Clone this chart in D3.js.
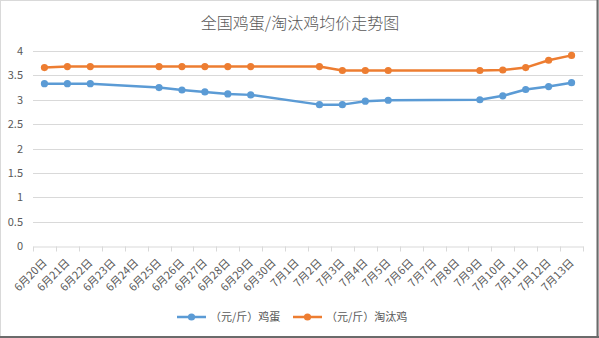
<!DOCTYPE html>
<html>
<head>
<meta charset="utf-8">
<script src="https://cdn.jsdelivr.net/npm/d3@7/dist/d3.min.js"></script>
<style>
  html, body { margin: 0; padding: 0; background: #fff; }
  svg { display: block; }
</style>
</head>
<body>
<svg id="chart" width="599" height="338"></svg>
<script>
// Daily categories shown on the x axis
const dates = ["6月20日","6月21日","6月22日","6月23日","6月24日","6月25日","6月26日","6月27日",
  "6月28日","6月29日","6月30日","7月1日","7月2日","7月3日","7月4日","7月5日","7月6日","7月7日",
  "7月8日","7月9日","7月10日","7月11日","7月12日","7月13日"];

// Average egg price (元/斤); null where no quote was published
const eggPrice = [3.33,3.33,3.33,null,null,3.25,3.20,3.16,3.12,3.10,null,null,
  2.90,2.90,2.97,2.99,null,null,null,3.00,3.08,3.21,3.27,3.35];

// Average culled-hen price (元/斤)
const henPrice = [3.66,3.68,3.68,null,null,3.68,3.68,3.68,3.68,3.68,null,null,
  3.68,3.60,3.60,3.60,null,null,null,3.60,3.61,3.66,3.81,3.91];

const yTicks = [0,0.5,1,1.5,2,2.5,3,3.5,4];
const seriesNames = ["（元/斤）鸡蛋","（元/斤）淘汰鸡"];
const seriesColors = ["#5B9BD5","#ED7D31"];
const titleText = "全国鸡蛋/淘汰鸡均价走势图";

const W = 599, H = 338;
const margin = {left: 33, right: 16, top: 51, bottom: 92};
const svg = d3.select("#chart");
const font = "'Noto Sans CJK SC','Microsoft YaHei',sans-serif";

// frame
svg.append("rect").attr("x",0.5).attr("y",0.5).attr("width",W-1).attr("height",H-1)
  .attr("fill","#fff").attr("stroke","#d9d9d9");
svg.append("line").attr("x1",W-1.5).attr("x2",W-1.5).attr("y1",0).attr("y2",H).attr("stroke","#6b6b6b").attr("stroke-width",2);
svg.append("line").attr("x1",0).attr("x2",W).attr("y1",H-1).attr("y2",H-1).attr("stroke","#6b6b6b").attr("stroke-width",2);

const x = d3.scaleBand().domain(dates).range([margin.left, W - margin.right]);
const y = d3.scaleLinear().domain([0,4]).range([H - margin.bottom, margin.top]);

// title
svg.append("text").attr("x",300).attr("y",29).attr("text-anchor","middle")
  .attr("font-family",font).attr("font-weight",300).attr("font-size",16)
  .attr("fill","#595959").text(titleText);

// gridlines
svg.append("g").selectAll("line").data(yTicks.filter(d => d > 0)).join("line")
  .attr("x1",margin.left).attr("x2",W - margin.right)
  .attr("y1",d => Math.round(y(d)) + 0.5).attr("y2",d => Math.round(y(d)) + 0.5)
  .attr("stroke","#d9d9d9").attr("stroke-width",1);

// y axis labels
const yAxis = svg.append("g").attr("transform",`translate(${margin.left},0)`)
  .call(d3.axisLeft(y).tickValues(yTicks).tickSize(0).tickPadding(10).tickFormat(d3.format("")));
yAxis.select(".domain").remove();
yAxis.selectAll("text").attr("font-family",font).attr("font-size",11).attr("fill","#595959");

// x axis
const xAxis = svg.append("g").attr("transform",`translate(0,${Math.round(y(0)) + 0.5})`)
  .call(d3.axisBottom(x).tickSize(0).tickFormat(""));
xAxis.select(".domain").attr("stroke","#d9d9d9");
xAxis.selectAll(".tick").remove();
const bounds = dates.map(d => x(d)).concat([x.range()[1]]);
xAxis.selectAll("line.tk").data(bounds).join("line").attr("class","tk")
  .attr("x1",d => Math.round(d) + 0.5).attr("x2",d => Math.round(d) + 0.5)
  .attr("y1",0).attr("y2",5).attr("stroke","#d9d9d9");
xAxis.selectAll("text.lbl").data(dates).join("text").attr("class","lbl")
  .attr("transform",d => `translate(${x(d) + x.bandwidth()/2 + 3},17) rotate(-45)`)
  .attr("text-anchor","end")
  .attr("font-family",font).attr("font-size",11).attr("fill","#595959")
  .text(d => d);

// series
const series = [eggPrice, henPrice];
const line = d3.line()
  .x(d => x(d.date) + x.bandwidth()/2)
  .y(d => y(d.v));

series.forEach((vals, i) => {
  const pts = dates.map((d, j) => ({date: d, v: vals[j]})).filter(p => p.v !== null);
  const g = svg.append("g");
  g.append("path").datum(pts).attr("d", line).attr("fill","none")
    .attr("stroke",seriesColors[i]).attr("stroke-width",2.5).attr("stroke-linejoin","round");
  g.selectAll("circle").data(pts).join("circle")
    .attr("cx",d => x(d.date) + x.bandwidth()/2).attr("cy",d => y(d.v))
    .attr("r",3.6).attr("fill",seriesColors[i]);
});

// legend
const legendX = [177, 293];
seriesNames.forEach((name, i) => {
  const g = svg.append("g").attr("transform",`translate(${legendX[i]},317)`);
  g.append("line").attr("x1",0).attr("x2",29).attr("y1",0).attr("y2",0)
    .attr("stroke",seriesColors[i]).attr("stroke-width",2.5);
  g.append("circle").attr("cx",14.5).attr("cy",0).attr("r",3.6).attr("fill",seriesColors[i]);
  g.append("text").attr("x",33).attr("y",0).attr("dy","0.35em")
    .attr("font-family",font).attr("font-size",11).attr("fill","#595959").text(name);
});
</script>
</body>
</html>
